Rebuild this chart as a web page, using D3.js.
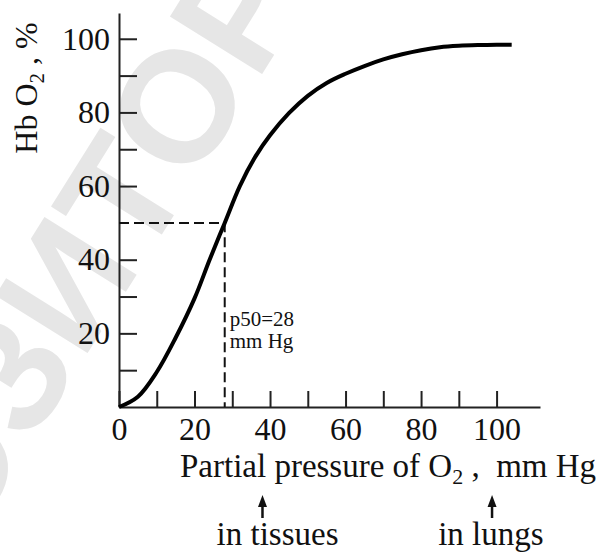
<!DOCTYPE html>
<html>
<head>
<meta charset="utf-8">
<script src="https://cdn.jsdelivr.net/npm/d3@7"></script>
<style>
  body { margin: 0; background: #fff; }
  svg text { font-family: "Liberation Serif", "Times New Roman", serif; fill: #111; }
</style>
</head>
<body>
<div class="chart"></div>
<script>
// Oxygen dissociation curve of haemoglobin
const pressure   = [0, 5, 10, 15, 20, 24, 28, 32, 36, 40, 45, 50, 55, 60, 65, 70, 75, 80, 85, 90, 95, 100, 104];
const saturation = [0, 2.8, 9.5, 18.8, 29.5, 40, 50, 60, 67.8, 73.8, 79.8, 84.5, 88, 90.5, 92.6, 94.4, 95.8, 96.9, 97.7, 98.1, 98.3, 98.4, 98.4];

const xTickValues = [0, 10, 20, 30, 40, 50, 60, 70, 80, 90, 100];
const xTickLabels = [0, 20, 40, 60, 80, 100];
const yTickValues = [10, 20, 30, 40, 60, 70, 80, 90, 100];
const yTickLabels = [20, 40, 60, 80, 100];

const p50 = 28;
const markerNames = ["in tissues", "in lungs"];
const markerArrowAt = [38, 98.8];
const markerTextAt = [42, 98.5];

const width = 605, height = 554;

const svg = d3.select(".chart")
  .append("svg")
  .attr("width", width)
  .attr("height", height);

// faint watermark behind the chart
svg.append("text")
  .attr("transform", "translate(66,284) rotate(-58)")
  .attr("text-anchor", "middle")
  .attr("dominant-baseline", "central")
  .style("font-family", "'Liberation Sans', Arial, sans-serif")
  .style("font-weight", "bold")
  .style("font-size", "158px")
  .style("fill", "#e6e6e6")
  .text("РЕПОЗИТОРИЙ");

// scales
const x = d3.scaleLinear().domain([0, 111.5]).range([119, 540]);
const y = d3.scaleLinear().domain([0, 107]).range([407, 13]);

// axes, ticks point inward
const xAxis = d3.axisBottom(x)
  .tickValues(xTickValues)
  .tickSizeInner(-16)
  .tickSizeOuter(0)
  .tickPadding(10)
  .tickFormat(d => xTickLabels.includes(d) ? d : "");

const yAxis = d3.axisLeft(y)
  .tickValues(yTickValues)
  .tickSizeInner(-18)
  .tickSizeOuter(0)
  .tickPadding(9)
  .tickFormat(d => yTickLabels.includes(d) ? d : "");

const gx = svg.append("g")
  .attr("transform", `translate(0,${y(0)})`)
  .call(xAxis);

const gy = svg.append("g")
  .attr("transform", `translate(${x(0)},0)`)
  .call(yAxis);

[gx, gy].forEach(g => {
  g.selectAll("path, line").attr("stroke", "#222").attr("stroke-width", 2);
  g.selectAll("text")
    .style("font-family", "'Liberation Serif', 'Times New Roman', serif")
    .style("font-size", "32px")
    .attr("fill", "#111");
});

// dashed guide lines for p50
svg.append("path")
  .attr("d", `M${x(0)},${y(50)}H${x(p50)}V${y(0)}`)
  .attr("fill", "none")
  .attr("stroke", "#111")
  .attr("stroke-width", 2)
  .attr("stroke-dasharray", "10,5");

// the curve
const line = d3.line()
  .x((d, i) => x(pressure[i]))
  .y(d => y(d))
  .curve(d3.curveCatmullRom.alpha(0.5));

svg.append("path")
  .datum(saturation)
  .attr("d", line)
  .attr("fill", "none")
  .attr("stroke", "#000")
  .attr("stroke-width", 4);

// p50 label
svg.append("text")
  .attr("x", x(p50) + 5)
  .attr("y", 326)
  .style("font-size", "21px")
  .text(`p50=${p50}`);
svg.append("text")
  .attr("x", x(p50) + 5)
  .attr("y", 348)
  .style("font-size", "21px")
  .text("mm Hg");

// y axis title
const yTitle = svg.append("text")
  .attr("transform", "translate(37,88) rotate(-90)")
  .attr("text-anchor", "middle")
  .style("font-size", "32px");
yTitle.append("tspan").text("Hb O");
yTitle.append("tspan").attr("dy", 7).style("font-size", "21px").text("2");
yTitle.append("tspan").attr("dy", -7).text(" , %");

// x axis title
const xTitle = svg.append("text")
  .attr("x", 180)
  .attr("y", 477)
  .style("font-size", "33px")
  .style("white-space", "pre");
xTitle.append("tspan").text("Partial pressure of O");
xTitle.append("tspan").attr("dy", 7).style("font-size", "22px").text("2");
xTitle.append("tspan").attr("dy", -7).text(" ,  mm Hg");

// arrows with their captions
markerNames.forEach((name, i) => {
  const ax = x(markerArrowAt[i]);
  svg.append("line")
    .attr("x1", ax).attr("x2", ax)
    .attr("y1", 518).attr("y2", 504)
    .attr("stroke", "#111")
    .attr("stroke-width", 2.5);
  svg.append("path")
    .attr("d", `M${ax},495L${ax - 4.5},507L${ax + 4.5},507Z`)
    .attr("fill", "#111");
  svg.append("text")
    .attr("x", x(markerTextAt[i]))
    .attr("y", 545)
    .attr("text-anchor", "middle")
    .style("font-size", "33px")
    .text(name);
});
</script>
</body>
</html>
